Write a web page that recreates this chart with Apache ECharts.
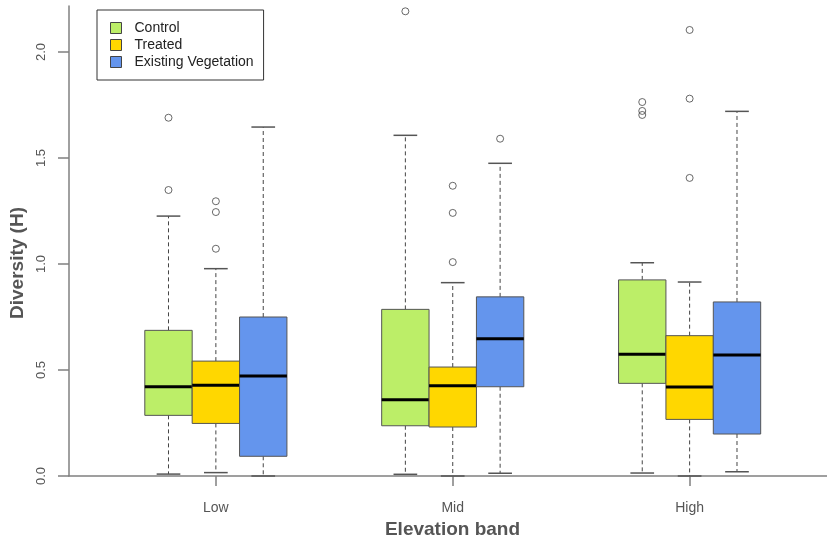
<!DOCTYPE html>
<html>
<head>
<meta charset="utf-8">
<script src="https://cdn.jsdelivr.net/npm/echarts@6/dist/echarts.min.js"></script>
<style>
html, body { margin: 0; padding: 0; background: #fff; }
#main { width: 827px; height: 540px; }
</style>
</head>
<body>
<div id="main"></div>
<script>
var categories = ['Low', 'Mid', 'High'];
var groups = ['Control', 'Treated', 'Existing Vegetation'];
var colors = ['#BCEE68', '#FFD700', '#6495ED'];

// [lower whisker, Q1, median, Q3, upper whisker] for Low, Mid, High
var controlStats = [
    [0.009, 0.286, 0.421, 0.687, 1.226],
    [0.008, 0.237, 0.360, 0.786, 1.607],
    [0.014, 0.437, 0.574, 0.925, 1.006]
];
var treatedStats = [
    [0.016, 0.248, 0.428, 0.542, 0.978],
    [0.000, 0.231, 0.426, 0.514, 0.912],
    [0.000, 0.267, 0.420, 0.662, 0.915]
];
var existingStats = [
    [0.000, 0.093, 0.472, 0.750, 1.646],
    [0.013, 0.421, 0.648, 0.845, 1.475],
    [0.020, 0.198, 0.571, 0.821, 1.720]
];

// outliers for Low, Mid, High
var controlOutliers = [[1.690, 1.349], [2.192], [1.764, 1.722, 1.703]];
var treatedOutliers = [[1.296, 1.245, 1.072], [1.369, 1.241, 1.009], [2.104, 1.780, 1.406]];
var existingOutliers = [[], [1.591], []];

var yTicks = [0, 0.5, 1, 1.5, 2];

var allStats = [controlStats, treatedStats, existingStats];
var allOutliers = [controlOutliers, treatedOutliers, existingOutliers];

// box slot on the x scale: 3 boxes per band, bands 5 slots apart
function slot(i, j) { return 5 * i + j + 1; }
var bandTicks = categories.map(function (c, i) { return slot(i, 1); });

function renderBox(params, api) {
    var x = api.value(0);
    var lo = api.coord([x, api.value(1)]);
    var q1 = api.coord([x, api.value(2)]);
    var md = api.coord([x, api.value(3)]);
    var q3 = api.coord([x, api.value(4)]);
    var hi = api.coord([x, api.value(5)]);
    var w = api.size([1, 0])[0];
    var cx = md[0];
    var half = w / 2;
    var cap = w / 4;
    var dash = { stroke: '#444', lineWidth: 1, lineDash: [4, 3] };
    var capStyle = { stroke: '#555', lineWidth: 1.5 };
    return {
        type: 'group',
        children: [
            { type: 'line', shape: { x1: cx, y1: q3[1], x2: cx, y2: hi[1] }, style: dash },
            { type: 'line', shape: { x1: cx, y1: q1[1], x2: cx, y2: lo[1] }, style: dash },
            { type: 'line', shape: { x1: cx - cap, y1: hi[1], x2: cx + cap, y2: hi[1] }, style: capStyle },
            { type: 'line', shape: { x1: cx - cap, y1: lo[1], x2: cx + cap, y2: lo[1] }, style: capStyle },
            {
                type: 'rect',
                shape: { x: cx - half, y: q3[1], width: w, height: q1[1] - q3[1] },
                style: { fill: api.visual('color'), stroke: '#555', lineWidth: 1 }
            },
            { type: 'line', shape: { x1: cx - half, y1: md[1], x2: cx + half, y2: md[1] }, style: { stroke: '#000', lineWidth: 3 } }
        ]
    };
}

var series = [];
groups.forEach(function (name, j) {
    series.push({
        name: name,
        type: 'custom',
        renderItem: renderBox,
        itemStyle: { color: colors[j] },
        encode: { x: 0, y: [1, 2, 3, 4, 5] },
        data: allStats[j].map(function (s, i) { return [slot(i, j)].concat(s); }),
        z: 2
    });
});
groups.forEach(function (name, j) {
    var pts = [];
    allOutliers[j].forEach(function (vals, i) {
        vals.forEach(function (v) { pts.push([slot(i, j), v]); });
    });
    series.push({
        name: name + ' outliers',
        type: 'scatter',
        symbol: 'circle',
        symbolSize: 7,
        itemStyle: { color: 'rgba(255,255,255,0)', borderColor: '#444', borderWidth: 1 },
        data: pts,
        z: 3
    });
});

var chart = echarts.init(document.getElementById('main'));
chart.setOption({
    animation: false,
    backgroundColor: '#fff',
    textStyle: { fontFamily: 'Liberation Sans, Arial, sans-serif' },
    grid: { left: 69, right: 0, top: 6, bottom: 64, outerBoundsMode: 'none', containLabel: false },
    legend: {
        data: groups,
        orient: 'vertical',
        left: 97,
        top: 10,
        borderColor: '#333',
        borderWidth: 1,
        padding: [11, 10, 11, 13],
        itemWidth: 11,
        itemHeight: 11,
        itemGap: 3,
        icon: 'rect',
        itemStyle: { borderColor: '#444', borderWidth: 1 },
        textStyle: { fontSize: 14, color: '#222', padding: [0, 0, 0, 8] }
    },
    xAxis: {
        type: 'value',
        min: -1.1,
        max: 14.9,
        splitLine: { show: false },
        axisLine: { show: true, onZero: false, lineStyle: { color: '#808080', width: 1.5 } },
        axisTick: { show: true, customValues: bandTicks, length: 10, lineStyle: { color: '#808080', width: 1.5 } },
        axisLabel: {
            customValues: bandTicks,
            formatter: function (v) { return categories[Math.round((v - 2) / 5)]; },
            fontSize: 14,
            color: '#555',
            margin: 25
        },
        name: 'Elevation band',
        nameLocation: 'middle',
        nameGap: 43,
        nameTextStyle: { fontSize: 19, fontWeight: 'bold', color: '#555', padding: [0, 0, 0, 9] }
    },
    yAxis: {
        type: 'value',
        min: 0,
        max: 2.217,
        splitLine: { show: false },
        axisLine: { show: true, onZero: false, lineStyle: { color: '#808080', width: 1.5 } },
        axisTick: { show: true, customValues: yTicks, length: 11, lineStyle: { color: '#808080', width: 1.5 } },
        axisLabel: {
            customValues: yTicks,
            formatter: function (v) { return v.toFixed(1); },
            rotate: 90,
            fontSize: 13,
            color: '#555',
            margin: 21
        },
        name: 'Diversity (H)',
        nameLocation: 'middle',
        nameGap: 39,
        nameTextStyle: { fontSize: 19, fontWeight: 'bold', color: '#555', padding: [0, 44, 0, 0] }
    },
    series: series
});
</script>
</body>
</html>
